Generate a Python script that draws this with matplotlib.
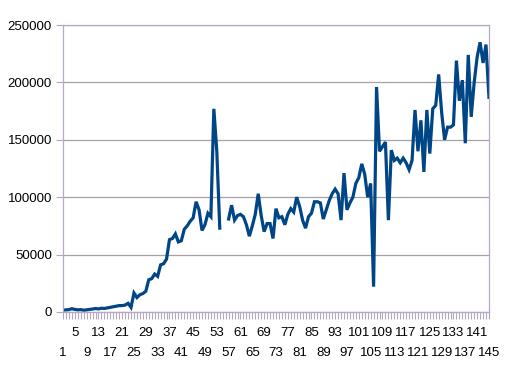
import numpy as np
import matplotlib.pyplot as plt

# category numbers 1..145
cats = np.arange(1, 146)

vals_1_54 = [1500, 1800, 2000, 2800, 2200, 1800, 2000, 1500, 1800, 2200,
             2500, 3000, 2600, 3200, 3000, 3500, 4000, 4500, 5000, 5500,
             5500, 6000, 7500, 4000, 16500, 12500, 15000, 16000, 18000, 28000,
             29000, 33000, 31000, 41000, 42000, 46000, 63000, 64000, 68000, 61000,
             62000, 72000, 75000, 79000, 82000, 96000, 89000, 71000, 76000, 86000,
             83000, 177000, 140000, 73000]
vals_55_56 = [np.nan, np.nan]
vals_57_100 = [81000, 93000, 80000, 84000, 85000, 83000, 76000, 66000, 75000, 85000,
               103000, 84000, 70000, 77000, 77000, 64000, 90000, 82000, 83000, 76000,
               85000, 90000, 87000, 100000, 92000, 80000, 73000, 83000, 86000, 96000,
               96000, 95000, 81000, 89000, 97000, 103000, 107000, 103000, 80000, 121000,
               89000, 95000, 100000, 112000]
vals_101_145 = [117000, 129000, 120000, 100000, 112000, 22000, 196000, 140000, 144000, 148000,
                80000, 141000, 132000, 134000, 130000, 134000, 130000, 124000, 132000, 176000,
                140000, 167000, 122000, 176000, 138000, 177000, 180000, 207000, 174000, 150000,
                161000, 161000, 163000, 219000, 184000, 202000, 147000, 224000, 170000, 200000,
                222000, 235000, 217000, 233000, 187000]
values = np.array(vals_1_54 + vals_55_56 + vals_57_100 + vals_101_145, dtype=float)

yticks = [0, 50000, 100000, 150000, 200000, 250000]

fig = plt.figure(figsize=(5.12, 3.74), dpi=100)
ax = fig.add_axes([0.123, 0.166, 0.832, 0.767])

ax.plot(cats, values, color='#004586', linewidth=2.3, solid_joinstyle='miter')

ax.set_xlim(1, 145)
ax.set_ylim(0, 250000)
ax.set_yticks(yticks)
ax.set_yticklabels([str(v) for v in yticks], family='Liberation Sans', size=9.5)
ax.yaxis.grid(True, color='#a8a0a8', linewidth=0.9)
ax.set_axisbelow(True)

ax.set_xticks(cats)
labels = [str(c) if (c - 1) % 4 == 0 else '' for c in cats]
ax.set_xticklabels(labels, family='Liberation Sans', size=9.5)
for c, lab in zip(cats, ax.get_xticklabels()):
    if (c - 1) % 8 == 0:
        lab.set_y(-0.07)

ax.tick_params(axis='x', length=5, width=0.8, color='#b0a8b8', pad=6)
ax.tick_params(axis='y', length=5, width=0.8, color='#b0a8b8', pad=3)

for s in ax.spines.values():
    s.set_color('#b8a8c8')
    s.set_linewidth(0.9)

fig.savefig('out.png', dpi=100)
